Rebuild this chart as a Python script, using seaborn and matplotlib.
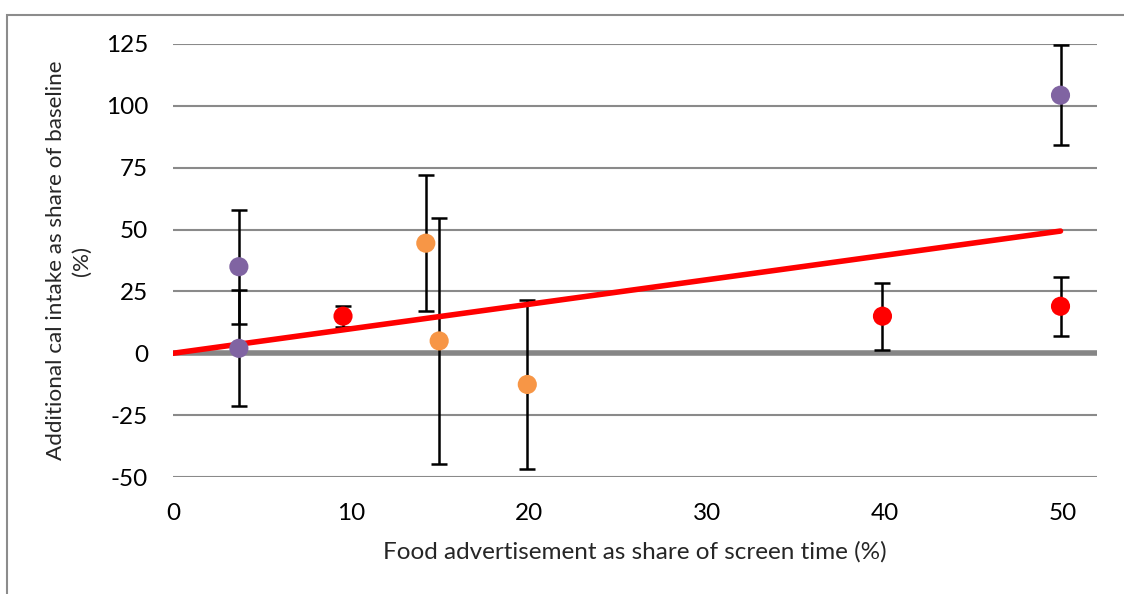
import matplotlib
matplotlib.use("Agg")
import matplotlib.pyplot as plt
import seaborn as sns
import pandas as pd
from matplotlib.patches import Rectangle

# Study results: ad share of screen time vs. extra calorie intake
ad_share = [3.7, 3.7, 9.55, 14.2, 14.95, 19.9, 39.85, 49.85, 49.85]
extra_cal = [35.0, 2.0, 15.0, 44.5, 5.0, -12.6, 15.0, 19.0, 104.3]
err = [23.0, 23.5, 4.2, 27.6, 49.8, 34.0, 13.6, 12.0, 20.3]
group = ["A", "A", "B", "C", "C", "C", "B", "B", "A"]

# Fitted trend line
trend_x = [0, 49.85]
trend_y = [0, 49.4]

x_ticks = [0, 10, 20, 30, 40, 50]
y_ticks = [-50, -25, 0, 25, 50, 75, 100, 125]

palette = {"A": "#8064A2", "B": "#FF0000", "C": "#F79646"}

sns.set_theme(style="white")
plt.rcParams["font.family"] = ["Lato", "DejaVu Sans"]
plt.rcParams["axes.unicode_minus"] = False

FS = 17.5

fig = plt.figure(figsize=(11.24, 5.94), dpi=100)
ax = fig.add_axes([173 / 1124, 1 - 477 / 594, (1097 - 173) / 1124, (477 - 44) / 594])

df = pd.DataFrame({"x": ad_share, "y": extra_cal, "err": err, "group": group})

# horizontal gridlines
for t in y_ticks:
    if t != 0:
        ax.axhline(t, color="#8a8a8a", lw=1.5, zorder=1)
ax.axhline(0, color="#868686", lw=4, zorder=2)

ax.errorbar(df["x"], df["y"], yerr=df["err"], fmt="none", ecolor="black",
            elinewidth=1.8, capsize=6, capthick=1.8, zorder=3)

sns.lineplot(x=trend_x, y=trend_y, ax=ax, color="#FF0000", lw=4,
             solid_capstyle="round", zorder=4)

sns.scatterplot(data=df, x="x", y="y", hue="group", palette=palette, s=190,
                edgecolor="none", legend=False, ax=ax, zorder=5)

ax.set_xlim(0, 51.9)
ax.set_ylim(-50, 125)
ax.set_xticks(x_ticks)
ax.set_yticks(y_ticks)
ax.tick_params(axis="both", length=0, labelsize=FS, colors="black")
ax.tick_params(axis="x", pad=19)
ax.tick_params(axis="y", pad=18)
for s in ax.spines.values():
    s.set_visible(False)
ax.set_xlabel("Food advertisement as share of screen time (%)", fontsize=FS, labelpad=12)
ax.set_ylabel("Additional cal intake as share of baseline\n(%)", fontsize=16.2,
              labelpad=10, linespacing=1.35)

# outer frame
fig.patches.append(Rectangle((7 / 1124, -0.1), 1.2, 1 - 15 / 594 + 0.1,
                             transform=fig.transFigure, fill=False,
                             edgecolor="#8c8c8c", lw=1.5))

fig.savefig("out.png", dpi=100)
